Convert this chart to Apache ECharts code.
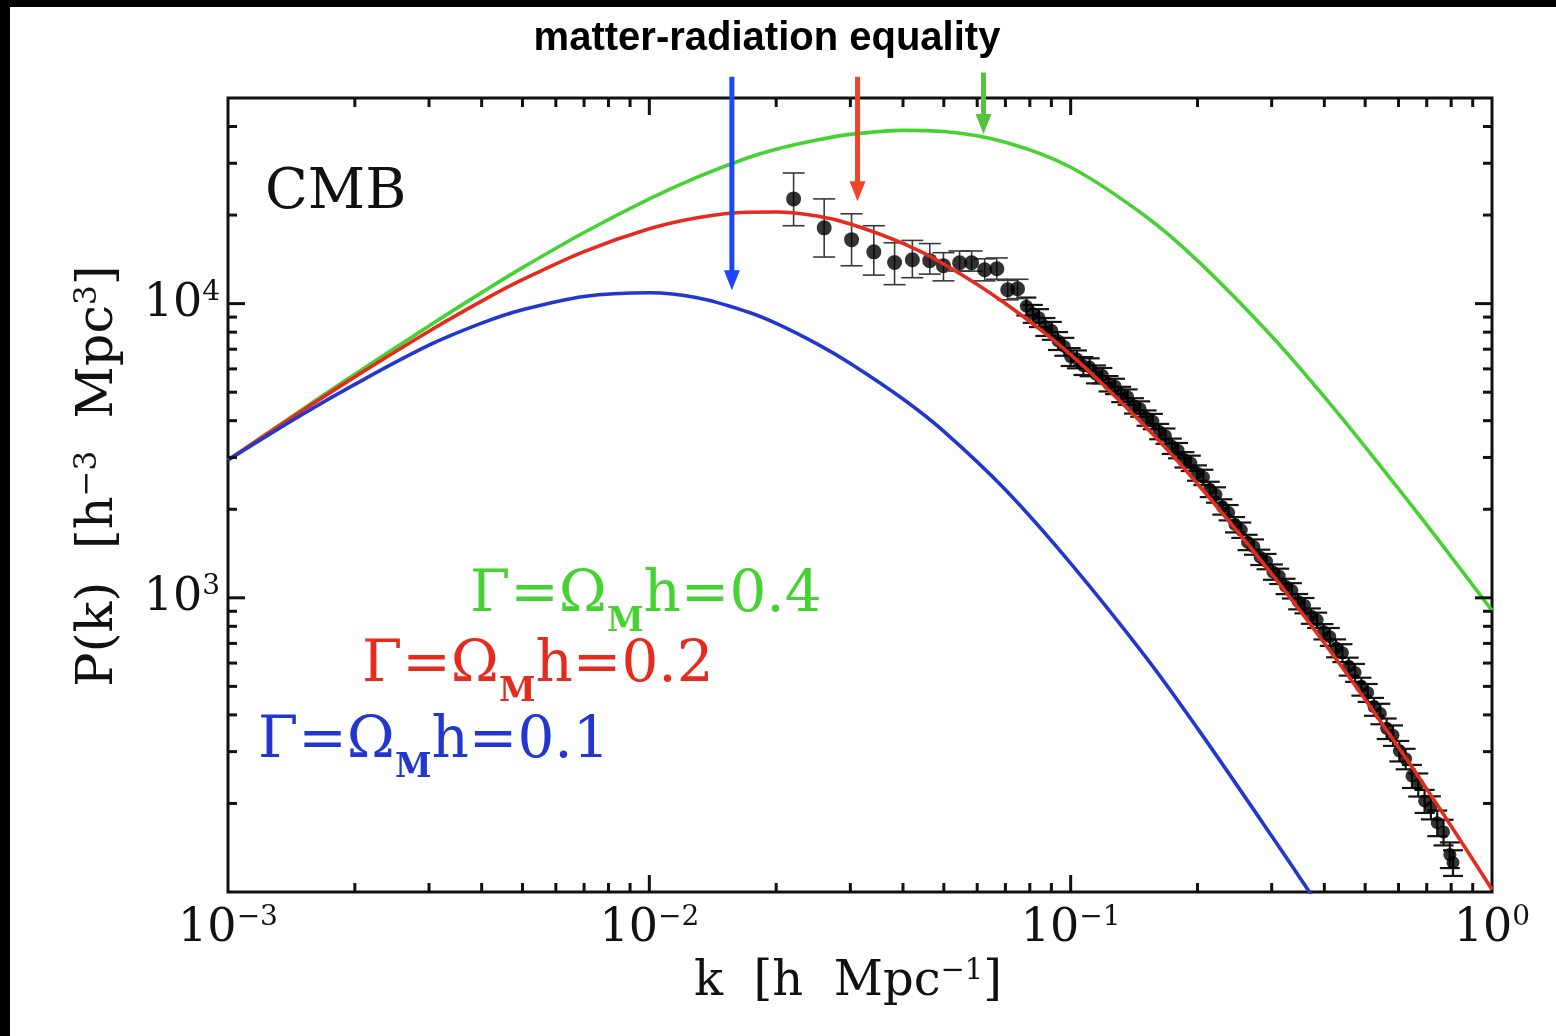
<!DOCTYPE html>
<html>
<head>
<meta charset="utf-8">
<title>Matter power spectrum</title>
<script src="https://cdn.jsdelivr.net/npm/echarts@6/dist/echarts.min.js"></script>
<style>
  html, body { margin: 0; padding: 0; background: #fff; }
  #chart { width: 1556px; height: 1036px; }
</style>
</head>
<body>
<div id="chart"></div>
<script>
// ---- model curves P(k) for three shape parameters, tabulated in k [h/Mpc] ----
const kModel = [0.001, 0.0015, 0.002, 0.003, 0.004, 0.005, 0.007, 0.01, 0.013, 0.017, 0.02, 0.025,
                0.03, 0.04, 0.05, 0.07, 0.1, 0.15, 0.2, 0.3, 0.4, 0.5, 0.7, 1.0];
const pGamma04 = [2940, 4365, 5750, 8400, 10900, 13250, 17450, 22700, 26900, 31200, 33500, 36000,
                  37610, 38820, 38475, 35375, 29080, 19900, 14000, 7750, 4820, 3260, 1770, 905];
const pGamma02 = [2940, 4321, 5637, 8056, 10198, 12057, 15031, 17965, 19588, 20445, 20478, 19846,
                  18655, 16020, 13640, 10009, 6713, 3837, 2442, 1206, 702, 451, 224, 102];
const pGamma01 = [2940, 4201, 5318, 7223, 8583, 9530, 10578, 10885, 10464, 9399, 8569, 7297,
                  6260, 4740, 3680, 2330, 1310, 635, 360, 155, 84];

// ---- measured band powers, large scales (with error bars) ----
const kLow   = [0.0220, 0.0260, 0.0302, 0.0341, 0.0382, 0.0421, 0.0463, 0.0499, 0.0545, 0.0582, 0.0625, 0.0668, 0.0709, 0.0748];
const pLow   = [22700, 18100, 16500, 15000, 13800, 14100, 14000, 13450, 13770, 13770, 13040, 13140, 11150, 11240];
const pLowLo = [18400, 14400, 13450, 12500, 11600, 12250, 12600, 11950, 12900, 12900, 11950, 12100, 10300, 10400];
const pLowHi = [27800, 22700, 20200, 18400, 16100, 16400, 16000, 14900, 15100, 15100, 14200, 14300, 12000, 12100];

// ---- measured band powers, small scales (dense) with fractional errors ----
const kDense = [0.0785, 0.0813, 0.0841, 0.0871, 0.0902, 0.0933, 0.0966, 0.1000, 0.1035, 0.1072, 0.1109, 0.1148,
                0.1189, 0.1230, 0.1274, 0.1318, 0.1365, 0.1413, 0.1462, 0.1514, 0.1567, 0.1622, 0.1679, 0.1738,
                0.1799, 0.1862, 0.1928, 0.1995, 0.2065, 0.2138, 0.2213, 0.2291, 0.2371, 0.2455, 0.2541, 0.2630,
                0.2723, 0.2818, 0.2917, 0.3020, 0.3126, 0.3236, 0.3350, 0.3467, 0.3589, 0.3715, 0.3846, 0.3981,
                0.4121, 0.4266, 0.4416, 0.4571, 0.4732, 0.4898, 0.5070, 0.5248, 0.5433, 0.5623, 0.5821, 0.6026,
                0.6237, 0.6457, 0.6683, 0.6918, 0.7161, 0.7413, 0.7674, 0.7943, 0.8080];
const pDense = [9800, 9250, 8950, 8350, 8100, 7480, 7150, 6600, 6480, 6150, 6090, 5760,
                5700, 5350, 5240, 4920, 4820, 4500, 4390, 4090, 3980, 3680, 3550, 3280,
                3170, 2950, 2870, 2660, 2570, 2340, 2240, 2040, 1950, 1775, 1700, 1545,
                1490, 1375, 1330, 1225, 1185, 1095, 1058, 972, 942, 868, 840, 768,
                738, 675, 650, 585, 557, 500, 476, 427, 404, 360, 341, 302,
                284, 248, 232, 204, 194, 172, 160, 134, 126];
const errDense = [0.07, 0.07, 0.07, 0.07, 0.07, 0.07, 0.07, 0.07, 0.07, 0.07, 0.07, 0.07,
                  0.06, 0.06, 0.06, 0.06, 0.06, 0.06, 0.06, 0.06, 0.06, 0.06, 0.06, 0.06,
                  0.06, 0.06, 0.06, 0.06, 0.06, 0.06, 0.06, 0.06, 0.06, 0.06, 0.06, 0.06,
                  0.06, 0.06, 0.06, 0.06, 0.06, 0.06, 0.06, 0.06, 0.06, 0.06, 0.06, 0.06,
                  0.07, 0.07, 0.07, 0.07, 0.07, 0.07, 0.07, 0.07, 0.08, 0.08, 0.08, 0.08,
                  0.08, 0.09, 0.09, 0.09, 0.09, 0.10, 0.10, 0.10, 0.10];

// ---- matter-radiation equality markers: k position, arrow tail and tip ----
const kEquality  = [0.0157, 0.0312, 0.0621];
const pArrowTail = [59000, 59000, 61000];
const pArrowTip  = [11100, 22300, 37700];

// ---- axis ticks ----
const xMajorTicks = [0.01, 0.1];
const xMinorTicks = [0.002, 0.003, 0.004, 0.005, 0.006, 0.007, 0.008, 0.009,
                     0.02, 0.03, 0.04, 0.05, 0.06, 0.07, 0.08, 0.09,
                     0.2, 0.3, 0.4, 0.5, 0.6, 0.7, 0.8, 0.9];
const yMajorTicks = [1000, 10000];
const yMinorTicks = [200, 300, 400, 500, 600, 700, 800, 900,
                     2000, 3000, 4000, 5000, 6000, 7000, 8000, 9000,
                     20000, 30000, 40000];

const X_MIN = 0.001, X_MAX = 1, Y_MIN = 100, Y_MAX = 50000;

const SERIF = "'DejaVu Serif', serif";
const INK = '#111';
const COL_G = '#45d232', COL_R = '#e52a1e', COL_B = '#2236d0';
const ARROW_COLORS = ['#1e46ff', '#f04428', '#55c43a'];

function powerLabel(v, hide) {
  const n = Math.round(Math.log10(v));
  if (Math.abs(v / Math.pow(10, n) - 1) > 1e-6 || hide.indexOf(n) >= 0) return '';
  return '{b|10}{e|' + (n < 0 ? '\u2212' + (-n) : String(n)) + '}';
}
const powRich = {
  b: { fontFamily: SERIF, fontSize: 46, lineHeight: 50, color: INK },
  e: { fontFamily: SERIF, fontSize: 28, lineHeight: 28, verticalAlign: 'top', color: INK }
};
const xTitleRich = {
  t: { fontFamily: SERIF, fontSize: 48, lineHeight: 52, color: INK },
  e: { fontFamily: SERIF, fontSize: 29, lineHeight: 29, verticalAlign: 'top', color: INK }
};
const yTitleRich = {
  t: { fontFamily: SERIF, fontSize: 51, lineHeight: 54, color: INK },
  e: { fontFamily: SERIF, fontSize: 31, lineHeight: 31, verticalAlign: 'top', color: INK }
};

function tickLine(x1, y1, x2, y2) {
  return { type: 'line', shape: { x1, y1, x2, y2 }, style: { stroke: INK, lineWidth: 3 } };
}
function renderXTick(params, api) {
  const k = api.value(0), len = api.value(2) ? 17 : 9;
  const b = api.coord([k, Y_MIN]), t = api.coord([k, Y_MAX]);
  return { type: 'group', children: [tickLine(b[0], b[1], b[0], b[1] - len), tickLine(t[0], t[1], t[0], t[1] + len)] };
}
function renderYTick(params, api) {
  const p = api.value(1), len = api.value(2) ? 17 : 9;
  const l = api.coord([X_MIN, p]), r = api.coord([X_MAX, p]);
  return { type: 'group', children: [tickLine(l[0], l[1], l[0] + len, l[1]), tickLine(r[0], r[1], r[0] - len, r[1])] };
}
function errorBarRenderer(capHalf, color, width) {
  return function (params, api) {
    const k = api.value(0);
    const lo = api.coord([k, api.value(1)]), hi = api.coord([k, api.value(2)]);
    const st = { stroke: color, lineWidth: width };
    return { type: 'group', children: [
      { type: 'line', shape: { x1: lo[0], y1: lo[1], x2: hi[0], y2: hi[1] }, style: st },
      { type: 'line', shape: { x1: lo[0] - capHalf, y1: lo[1], x2: lo[0] + capHalf, y2: lo[1] }, style: st },
      { type: 'line', shape: { x1: hi[0] - capHalf, y1: hi[1], x2: hi[0] + capHalf, y2: hi[1] }, style: st }
    ] };
  };
}
function renderArrow(params, api) {
  const k = api.value(0);
  const tail = api.coord([k, api.value(1)]), tip = api.coord([k, api.value(2)]);
  const color = ARROW_COLORS[api.value(3)];
  const headLen = 20, headHalf = 8;
  return { type: 'group', children: [
    { type: 'line', shape: { x1: tail[0], y1: tail[1], x2: tip[0], y2: tip[1] - headLen + 2 },
      style: { stroke: color, lineWidth: 5 } },
    { type: 'polygon', shape: { points: [[tip[0] - headHalf, tip[1] - headLen], [tip[0] + headHalf, tip[1] - headLen], [tip[0], tip[1]]] },
      style: { fill: color } }
  ] };
}

function gammaLabel(value, color, left, top) {
  return {
    type: 'text', left, top, z: 60,
    style: {
      text: '{a|\u0393=\u03A9}{s|M}{a|h=' + value + '}',
      rich: {
        a: { fontFamily: SERIF, fontSize: 58, lineHeight: 86, fill: color },
        s: { fontFamily: SERIF, fontSize: 33, fontWeight: 'bold', lineHeight: 33, verticalAlign: 'bottom', fill: color }
      }
    }
  };
}

const chart = echarts.init(document.getElementById('chart'));
chart.setOption({
  backgroundColor: '#fff',
  animation: false,
  grid: { left: 228, right: 64, top: 98, bottom: 144, show: true, borderColor: INK, borderWidth: 3, backgroundColor: '#fff' },
  xAxis: {
    type: 'log', logBase: 10, min: X_MIN, max: X_MAX,
    axisLine: { show: false }, axisTick: { show: false }, splitLine: { show: false },
    axisLabel: { margin: 12, formatter: v => powerLabel(v, []), rich: powRich },
    name: '{t|k  [h  Mpc}{e|\u22121}{t|]}', nameLocation: 'middle', nameGap: 50,
    nameTextStyle: { padding: [0, 24, 0, 0], rich: xTitleRich }
  },
  yAxis: {
    type: 'log', logBase: 10, min: Y_MIN, max: Y_MAX,
    axisLine: { show: false }, axisTick: { show: false }, splitLine: { show: false },
    axisLabel: { margin: 8, formatter: v => powerLabel(v, [2]), rich: powRich },
    name: '{t|P(k)  [h}{e|\u22123}{t|  Mpc}{e|3}{t|]}', nameLocation: 'middle', nameGap: 102, nameRotate: 90,
    nameTextStyle: { padding: [0, 0, 0, 38], rich: yTitleRich }
  },
  graphic: [
    { type: 'rect', shape: { x: 0, y: 0, width: 1556, height: 7 }, style: { fill: '#000' }, z: 100 },
    { type: 'rect', shape: { x: 0, y: 0, width: 10, height: 1036 }, style: { fill: '#000' }, z: 100 },
    { type: 'text', x: 767, y: 39, z: 60,
      style: { text: 'matter-radiation equality', align: 'center', verticalAlign: 'middle',
               font: "bold 40px 'Liberation Sans', Arial, sans-serif", fill: '#000' } },
    { type: 'text', left: 265, top: 165, z: 60,
      style: { text: 'CMB', font: "56px 'DejaVu Serif', serif", fill: INK } },
    gammaLabel('0.4', COL_G, 470, 567),
    gammaLabel('0.2', COL_R, 362, 637),
    gammaLabel('0.1', COL_B, 258, 713)
  ],
  series: [
    { type: 'custom', name: 'xticks', clip: false, z: 5, silent: true,
      renderItem: renderXTick, encode: { x: 0, y: 1 },
      data: xMajorTicks.map(k => [k, Y_MIN, 1]).concat(xMinorTicks.map(k => [k, Y_MIN, 0])) },
    { type: 'custom', name: 'yticks', clip: false, z: 5, silent: true,
      renderItem: renderYTick, encode: { x: 0, y: 1 },
      data: yMajorTicks.map(p => [X_MIN, p, 1]).concat(yMinorTicks.map(p => [X_MIN, p, 0])) },
    { type: 'custom', name: 'dense errors', z: 2, silent: true,
      renderItem: errorBarRenderer(10, '#151515', 2.2), encode: { x: 0, y: [1, 2] },
      data: kDense.map((k, i) => [k, pDense[i] * (1 - errDense[i]), pDense[i] * (1 + errDense[i])]) },
    { type: 'scatter', name: 'dense', z: 3, silent: true, symbol: 'circle', symbolSize: 13,
      itemStyle: { color: '#000' }, data: kDense.map((k, i) => [k, pDense[i]]) },
    { type: 'custom', name: 'low-k errors', z: 2, silent: true,
      renderItem: errorBarRenderer(11, '#3a3a3a', 1.6), encode: { x: 0, y: [1, 2] },
      data: kLow.map((k, i) => [k, pLowLo[i], pLowHi[i]]) },
    { type: 'scatter', name: 'low-k', z: 3, silent: true, symbol: 'circle', symbolSize: 15,
      itemStyle: { color: '#000' }, data: kLow.map((k, i) => [k, pLow[i]]) },
    { type: 'line', name: 'Gamma=0.4', z: 4, showSymbol: false, smooth: 0.35, clip: true, silent: true,
      lineStyle: { color: COL_G, width: 3.6 }, data: kModel.map((k, i) => [k, pGamma04[i]]) },
    { type: 'line', name: 'Gamma=0.2', z: 4, showSymbol: false, smooth: 0.35, clip: true, silent: true,
      lineStyle: { color: COL_R, width: 3.6 }, data: kModel.map((k, i) => [k, pGamma02[i]]) },
    { type: 'line', name: 'Gamma=0.1', z: 4, showSymbol: false, smooth: 0.35, clip: true, silent: true,
      lineStyle: { color: COL_B, width: 3.6 }, data: pGamma01.map((p, i) => [kModel[i], p]) },
    { type: 'custom', name: 'equality', z: 6, clip: false, silent: true,
      renderItem: renderArrow, encode: { x: 0, y: [1, 2] },
      data: kEquality.map((k, i) => [k, pArrowTail[i], pArrowTip[i], i]) }
  ]
});
</script>
</body>
</html>
